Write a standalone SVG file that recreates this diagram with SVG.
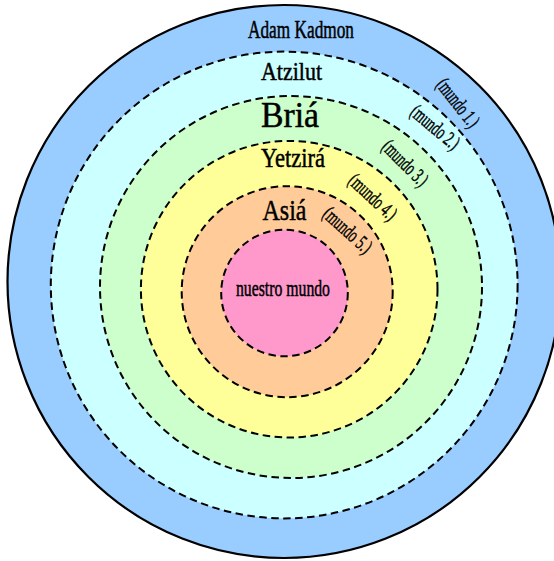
<svg xmlns="http://www.w3.org/2000/svg" width="554" height="561" viewBox="0 0 554 561">
<style>
  .ring { stroke: #000; stroke-width: 2; stroke-dasharray: 7.5 4.5; }
  .outer { stroke: #000; stroke-width: 2.2; }
  .t { font-family: "Liberation Serif", "Times New Roman", serif; fill: #000; stroke: #000; stroke-width: 0.5; }
  .lbl { font-family: "Liberation Serif", "Times New Roman", serif; font-size: 21px; fill: #000; stroke: #000; stroke-width: 0.45; text-anchor: middle; }
</style>
<rect width="554" height="561" fill="#fff"/>
<g id="adam-kadmon">
  <circle class="outer" cx="284" cy="281.5" r="276.5" fill="#99CCFF"/>
  <text class="t" x="248" y="38" font-size="25" textLength="106" lengthAdjust="spacingAndGlyphs">Adam Kadmon</text>
</g>
<g id="atzilut">
  <circle class="ring" cx="284.2" cy="285" r="233.4" fill="#CCFFFF"/>
  <text class="t" x="261" y="80" font-size="26" textLength="61" lengthAdjust="spacingAndGlyphs">Atzilut</text>
</g>
<g id="bria">
  <circle class="ring" cx="291" cy="287" r="191" fill="#CCFFCC"/>
  <text class="t" x="261" y="126.5" font-size="35" textLength="58" lengthAdjust="spacingAndGlyphs">Briá</text>
</g>
<g id="yetzira">
  <circle class="ring" cx="289.2" cy="289.2" r="148.3" fill="#FFFF99"/>
  <text class="t" x="261" y="166.5" font-size="27" textLength="64" lengthAdjust="spacingAndGlyphs">Yetzirá</text>
</g>
<g id="asia">
  <circle class="ring" cx="287.2" cy="291.7" r="105.5" fill="#FFCC99"/>
  <text class="t" x="262.5" y="220" font-size="30" textLength="44" lengthAdjust="spacingAndGlyphs">Asiá</text>
</g>
<g id="nuestro-mundo">
  <circle class="ring" cx="284.5" cy="293" r="63.3" fill="#FF99CC"/>
  <text class="t" x="236" y="296" font-size="23" textLength="94" lengthAdjust="spacingAndGlyphs">nuestro mundo</text>
</g>
<g id="labels">
  <text class="lbl" transform="translate(457,103.7) rotate(52)" y="5.4" textLength="56" lengthAdjust="spacingAndGlyphs">(mundo 1.)</text>
  <text class="lbl" transform="translate(434.3,128.3) rotate(40)" y="5.4" textLength="57" lengthAdjust="spacingAndGlyphs">(mundo 2.)</text>
  <text class="lbl" transform="translate(404.3,164) rotate(45)" y="5.4" textLength="56" lengthAdjust="spacingAndGlyphs">(mundo 3.)</text>
  <text class="lbl" transform="translate(372,198) rotate(43)" y="5.4" textLength="58" lengthAdjust="spacingAndGlyphs">(mundo 4.)</text>
  <text class="lbl" transform="translate(346.7,231.2) rotate(42)" y="5.4" textLength="58" lengthAdjust="spacingAndGlyphs">(mundo 5.)</text>
</g>
</svg>
